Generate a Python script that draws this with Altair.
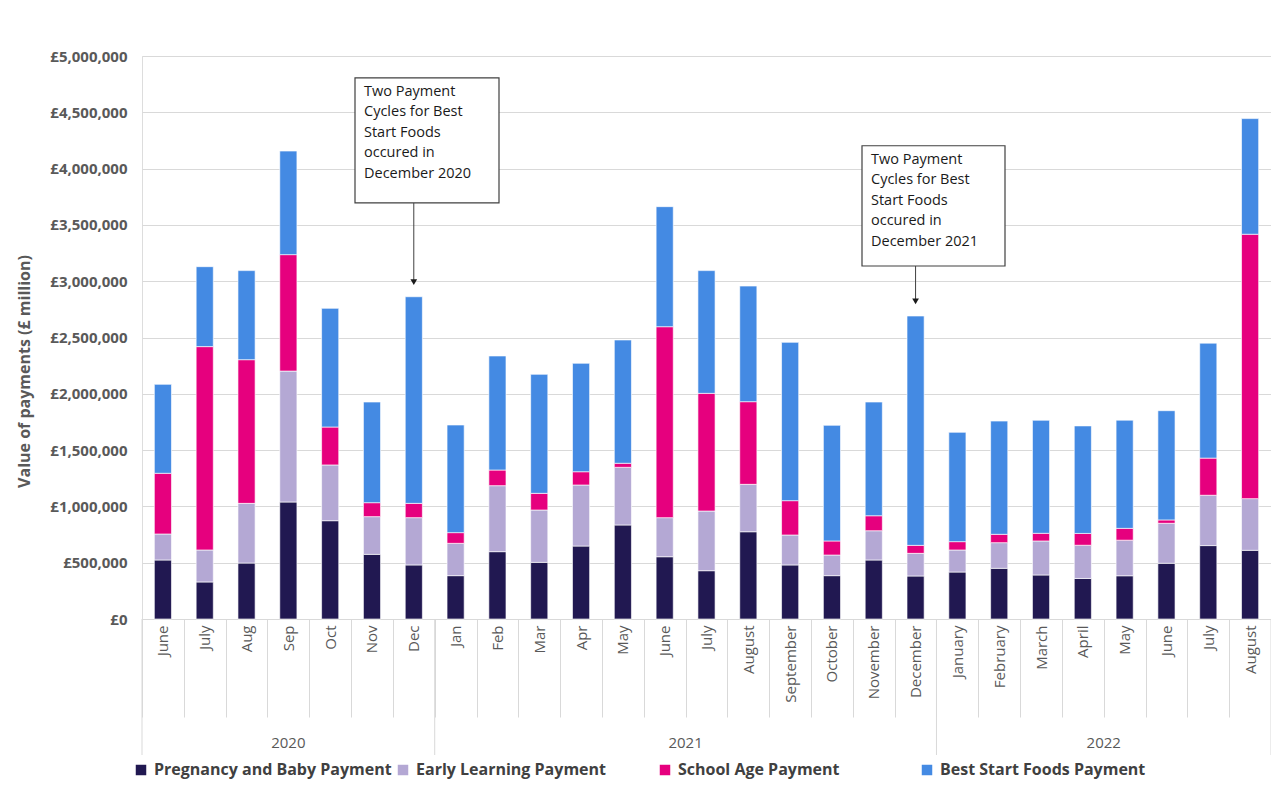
import altair as alt
import pandas as pd

# ---- data ----
months = ["June", "July", "Aug", "Sep", "Oct", "Nov", "Dec",
          "Jan", "Feb", "Mar", "Apr", "May", "June", "July", "August",
          "September", "October", "November", "December",
          "January", "February", "March", "April", "May", "June", "July", "August"]
years = ["2020"] * 7 + ["2021"] * 12 + ["2022"] * 8

series = ["Pregnancy and Baby Payment", "Early Learning Payment",
          "School Age Payment", "Best Start Foods Payment"]
colors = ["#211851", "#B4A8D4", "#E6007E", "#448AE3"]

pregnancy_baby = [524000, 329000, 497000, 1039000, 873000, 574000, 480000,
                  385000, 598000, 503000, 648000, 835000, 553000, 429000, 775000,
                  480000, 385000, 524000, 382000,
                  417000, 450000, 391000, 360000, 384000, 495000, 652000, 610000]
early_learning = [231000, 284000, 530000, 1163000, 495000, 335000, 420000,
                  287000, 586000, 465000, 542000, 512000, 347000, 530000, 421000,
                  266000, 183000, 260000, 201000,
                  196000, 228000, 302000, 295000, 316000, 355000, 447000, 459000]
school_age = [539000, 1806000, 1276000, 1034000, 337000, 124000, 127000,
              95000, 139000, 148000, 118000, 36000, 1696000, 1045000, 734000,
              305000, 125000, 133000, 71000,
              74000, 74000, 68000, 105000, 105000, 30000, 330000, 2348000]
best_start_foods = [790000, 710000, 791000, 920000, 1054000, 894000, 1835000,
                    956000, 1013000, 1057000, 963000, 1095000, 1066000, 1090000, 1027000,
                    1406000, 1027000, 1010000, 2037000,
                    971000, 1006000, 1004000, 955000, 961000, 970000, 1021000, 1027000]

y_ticks = [0, 500000, 1000000, 1500000, 2000000, 2500000, 3000000,
           3500000, 4000000, 4500000, 5000000]

annotations = [
    {"text": "Two Payment\nCycles for Best\nStart Foods\noccured in\nDecember 2020",
     "index": 6, "box_top": 4805000, "box_bottom": 3695000},
    {"text": "Two Payment\nCycles for Best\nStart Foods\noccured in\nDecember 2021",
     "index": 18, "box_top": 4203000, "box_bottom": 3135000},
]
# pixel layout for the annotation boxes (left, right, text left) within plot
box_layout = [(213, 357, 222), (720, 863, 729)]

# ---- build tables ----
values_by_series = [pregnancy_baby, early_learning, school_age, best_start_foods]
rows = []
for s_i, (name, vals) in enumerate(zip(series, values_by_series)):
    for i, v in enumerate(vals):
        rows.append({"i": i, "month": months[i], "year": years[i],
                     "series": name, "order": s_i, "value": v})
df = pd.DataFrame(rows)

totals = [sum(v[i] for v in values_by_series) for i in range(len(months))]

FONT = "Open Sans"
GREY = "#595959"
W, H = 1129, 563
TICK = 98

label_expr = "[" + ",".join("'" + m + "'" for m in months) + "][datum.value]"

x_enc = alt.X("i:O",
              scale=alt.Scale(paddingInner=0, paddingOuter=0),
              axis=alt.Axis(title=None, labelExpr=label_expr, labelAngle=270,
                            labelAlign="right", labelBaseline="middle",
                            labelPadding=6 - TICK, labelFont=FONT, labelFontSize=15,
                            labelColor=GREY, tickBand="extent", tickSize=TICK,
                            tickColor="#d9d9d9", tickWidth=1, domainColor="#d9d9d9",
                            grid=False))

bars = alt.Chart(df).mark_bar(width=alt.RelativeBandSize(0.41),
                              stroke="#ffffff", strokeWidth=0.8, strokeOpacity=0.8).encode(
    x=x_enc,
    y=alt.Y("value:Q", stack="zero",
            scale=alt.Scale(domain=[0, 5000000]),
            axis=alt.Axis(title="Value of payments (£ million)", values=y_ticks,
                          labelExpr="'£' + format(datum.value, ',.0f')",
                          labelFont=FONT, labelFontSize=15, labelFontWeight="bold",
                          labelColor=GREY, labelPadding=15, ticks=False, domain=False,
                          gridColor="#d9d9d9", gridWidth=1,
                          titleFont=FONT, titleFontSize=16, titleFontWeight="bold",
                          titleColor=GREY, titleX=-110, titleY=315, titleAlign="center",
                          titleAngle=270)),
    color=alt.Color("series:N",
                    scale=alt.Scale(domain=series, range=colors),
                    legend=alt.Legend(title=None, orient="none", legendX=-9, legendY=706,
                                      direction="horizontal", columns=4, columnPadding=3,
                                      gridAlign="all",
                                      symbolType="square", symbolSize=110,
                                      symbolStrokeWidth=0, labelLimit=0,
                                      labelFont=FONT, labelFontSize=16,
                                      labelFontWeight="bold", labelColor="#404040",
                                      labelOffset=5)),
    order=alt.Order("order:Q", sort="ascending"),
)

# year separators and labels
year_names = ["2020", "2021", "2022"]
year_starts = [years.index(y) for y in year_names]
year_ends = [len(years) - years[::-1].index(y) for y in year_names]  # exclusive

sep_left = pd.DataFrame({"i": year_starts})
sep_right = pd.DataFrame({"i": [len(months) - 1]})
rule_style = dict(color="#d9d9d9", strokeWidth=1)
seps = alt.Chart(sep_left).mark_rule(**rule_style).encode(
    x=alt.X("i:O", bandPosition=0), y=alt.value(H), y2=alt.value(H + 136))
seps_r = alt.Chart(sep_right).mark_rule(**rule_style).encode(
    x=alt.X("i:O", bandPosition=1), y=alt.value(H), y2=alt.value(H + 136))

mid_half = []
mid_edge = []
for y, s, e in zip(year_names, year_starts, year_ends):
    m = (s + e) / 2
    if m == int(m):
        mid_edge.append({"i": int(m), "year": y})
    else:
        mid_half.append({"i": int(m), "year": y})
ytext_style = dict(font=FONT, fontSize=15, color=GREY, baseline="middle", align="center")
year_half = alt.Chart(pd.DataFrame(mid_half)).mark_text(**ytext_style).encode(
    x=alt.X("i:O", bandPosition=0.5), y=alt.value(H + 124), text="year:N")
year_edge = alt.Chart(pd.DataFrame(mid_edge)).mark_text(**ytext_style).encode(
    x=alt.X("i:O", bandPosition=0), y=alt.value(H + 124), text="year:N")

layers = [bars, seps, seps_r, year_half, year_edge]

# annotations
for ann, (bx0, bx1, tx) in zip(annotations, box_layout):
    adf = pd.DataFrame([{**ann, "total": totals[ann["index"]],
                         "tip": totals[ann["index"]] + 130000}])
    box = alt.Chart(adf).mark_rect(fill="white", stroke="#404040", strokeWidth=1.2).encode(
        x=alt.value(bx0), x2=alt.value(bx1),
        y="box_top:Q", y2="box_bottom:Q")
    txt = alt.Chart(adf).mark_text(font=FONT, fontSize=14.5, color="#1a1a1a",
                                   align="left", baseline="top", lineBreak="\n",
                                   lineHeight=20.5, dy=7).encode(
        x=alt.value(tx), y="box_top:Q", text="text:N")
    line = alt.Chart(adf).mark_rule(color="#404040", strokeWidth=1).encode(
        x=alt.X("index:O"), y="box_bottom:Q", y2="tip:Q")
    head = alt.Chart(adf).mark_point(shape="triangle-down", filled=True, size=45,
                                     color="#1a1a1a", opacity=1).encode(
        x=alt.X("index:O"), y="tip:Q")
    layers += [line, head, box, txt]

chart = alt.layer(*layers).properties(
    width=W, height=H,
    autosize=alt.AutoSizeParams(type="none"),
    padding={"left": 134, "top": 48, "right": 0, "bottom": 161},
).configure_view(stroke=None).configure(background="white")

chart.save("out.html", embed_options={"renderer": "svg", "actions": False})
